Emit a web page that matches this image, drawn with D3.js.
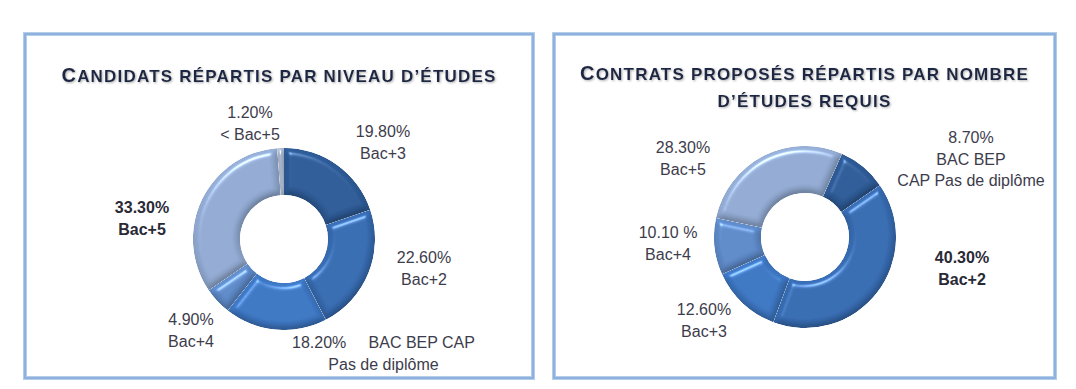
<!DOCTYPE html>
<html>
<head>
<meta charset="utf-8">
<script src="https://cdn.jsdelivr.net/npm/d3@7"></script>
<style>
  html, body { margin: 0; padding: 0; background: #fff; }
  svg { display: block; }
</style>
</head>
<body>
<div id="chart"></div>
<script>
// data, left chart: candidates by level of study
var leftTitle = ["Candidats répartis par niveau d’études"]
var leftCats = ["Bac+3", "Bac+2", "BAC BEP CAP Pas de diplôme", "Bac+4", "Bac+5", "< Bac+5"]
var leftValues = [19.8, 22.6, 18.2, 4.9, 33.3, 1.2]
var leftLabels = [
    ["19.80%", "Bac+3"],
    ["22.60%", "Bac+2"],
    ["18.20%     BAC BEP CAP", "Pas de diplôme"],
    ["4.90%", "Bac+4"],
    ["33.30%", "Bac+5"],
    ["1.20%", "< Bac+5"]
]

// data, right chart: contracts by level required
var rightTitle = ["Contrats proposés répartis par nombre", "d’études requis"]
var rightCats = ["BAC BEP CAP Pas de diplôme", "Bac+2", "Bac+3", "Bac+4", "Bac+5"]
var rightValues = [8.7, 40.3, 12.6, 10.1, 28.3]
var rightLabels = [
    ["8.70%", "BAC BEP", "CAP Pas de diplôme"],
    ["40.30%", "Bac+2"],
    ["12.60%", "Bac+3"],
    ["10.10 %", "Bac+4"],
    ["28.30%", "Bac+5"]
]

var palette = ["#2c5892", "#3568ac", "#3b73bd", "#5b86c3", "#8ea6cd", "#a4b1c7"]

var W = 1076, H = 389
var svg = d3.select("#chart").append("svg")
    .attr("width", W).attr("height", H)
    .style("background", "#fff")

var defs = svg.append("defs")
// bevel look of the slices
var bev = defs.append("filter").attr("id", "bevel")
    .attr("x", "-10%").attr("y", "-10%").attr("width", "120%").attr("height", "120%")
    .attr("color-interpolation-filters", "sRGB")
bev.append("feGaussianBlur").attr("in", "SourceAlpha").attr("stdDeviation", 3).attr("result", "b")
bev.append("feDiffuseLighting").attr("in", "b").attr("surfaceScale", 4)
    .attr("diffuseConstant", 1).attr("lighting-color", "#fff").attr("result", "d")
    .append("feDistantLight").attr("azimuth", 250).attr("elevation", 55)
bev.append("feSpecularLighting").attr("in", "b").attr("surfaceScale", 4)
    .attr("specularConstant", 0.55).attr("specularExponent", 60)
    .attr("lighting-color", "#fff").attr("result", "s")
    .append("feDistantLight").attr("azimuth", 250).attr("elevation", 55)
bev.append("feComposite").attr("in", "s").attr("in2", "SourceAlpha").attr("operator", "in").attr("result", "s2")
bev.append("feComposite").attr("in", "SourceGraphic").attr("in2", "d")
    .attr("operator", "arithmetic").attr("k1", 0.36).attr("k2", 0.71).attr("k3", 0).attr("k4", 0)
    .attr("result", "lit")
bev.append("feComposite").attr("in", "lit").attr("in2", "s2")
    .attr("operator", "arithmetic").attr("k1", 0).attr("k2", 1).attr("k3", 0.7).attr("k4", 0)
    .attr("result", "lit2")
bev.append("feComposite").attr("in", "lit2").attr("in2", "SourceAlpha").attr("operator", "in")

var shadow = defs.append("filter").attr("id", "tshadow")
shadow.append("feDropShadow").attr("dx", 1).attr("dy", 1).attr("stdDeviation", 0.8)
    .attr("flood-color", "#8a8a8a").attr("flood-opacity", 0.7)

// panels: frame, title lines, donut centre, label spots (dx,dy from centre)
var panels = [
    { x: 25, y: 34, w: 508, h: 344, title: leftTitle, titleY: [82], cx: 284, cy: 239,
      start: 0, values: leftValues, cats: leftCats, labels: leftLabels,
      spots: [[99, -102], [140, 24], [99.5, 109], [-93, 86], [-142, -26], [-34, -121]], bold: 4 },
    { x: 554, y: 34, w: 501, h: 344, title: rightTitle, titleY: [80, 107], cx: 805, cy: 237,
      start: 24, values: rightValues, cats: rightCats, labels: rightLabels,
      spots: [[166, -94], [157, 26], [-101, 78], [-137, 1], [-122, -84]], bold: 1 }
]

var outerR = 91, innerR = 44, lineH = 21.5

panels.forEach(function(p) {
    var g = svg.append("g")
    g.append("rect").attr("x", p.x).attr("y", p.y).attr("width", p.w).attr("height", p.h)
        .attr("fill", "#fff").attr("stroke", "#b3cdeb").attr("stroke-width", 4)
    g.append("rect").attr("x", p.x).attr("y", p.y).attr("width", p.w).attr("height", p.h)
        .attr("fill", "none").attr("stroke", "#7ca4d6").attr("stroke-width", 1.3)

    // title in small caps
    p.title.forEach(function(line, li) {
        var t = g.append("text")
            .attr("x", p.x + p.w / 2).attr("y", p.titleY[li])
            .attr("text-anchor", "middle")
            .attr("font-family", "Arial, 'Liberation Sans', sans-serif")
            .attr("font-weight", "bold")
            .attr("fill", "#1c2845")
            .attr("letter-spacing", 1.2)
            .attr("filter", "url(#tshadow)")
        var runs = []
        line.split("").forEach(function(c) {
            var big = c !== c.toLowerCase()
            if (runs.length && runs[runs.length - 1].big === big) runs[runs.length - 1].s += c
            else runs.push({ big: big, s: c })
        })
        runs.forEach(function(r) {
            t.append("tspan").attr("font-size", r.big ? 20 : 17).text(r.s.toUpperCase())
        })
    })

    var pie = d3.pie().sort(null).value(function(d) { return d })
        .startAngle(p.start * Math.PI / 180)
        .endAngle(p.start * Math.PI / 180 + 2 * Math.PI)
    var arc = d3.arc().innerRadius(innerR).outerRadius(outerR)

    var dg = g.append("g").attr("transform", "translate(" + p.cx + "," + p.cy + ")")
    dg.selectAll("path").data(pie(p.values)).enter().append("path")
        .attr("d", arc)
        .attr("fill", function(d, i) { return palette[i] })
        .attr("filter", "url(#bevel)")
        .append("title").text(function(d, i) { return p.cats[i] + " " + d.data + "%" })

    p.labels.forEach(function(lines, i) {
        var t = g.append("text")
            .attr("x", p.cx + p.spots[i][0]).attr("y", p.cy + p.spots[i][1])
            .attr("text-anchor", "middle")
            .attr("font-family", "Arial, 'Liberation Sans', sans-serif")
            .attr("font-size", 16)
            .attr("font-weight", i === p.bold ? "bold" : "normal")
            .attr("fill", i === p.bold ? "#2a2a36" : "#3d3c4c")
            .style("white-space", "pre")
        lines.forEach(function(s, k) {
            t.append("tspan").attr("x", p.cx + p.spots[i][0]).attr("dy", k ? lineH : 0).text(s)
        })
    })
})
</script>
</body>
</html>
